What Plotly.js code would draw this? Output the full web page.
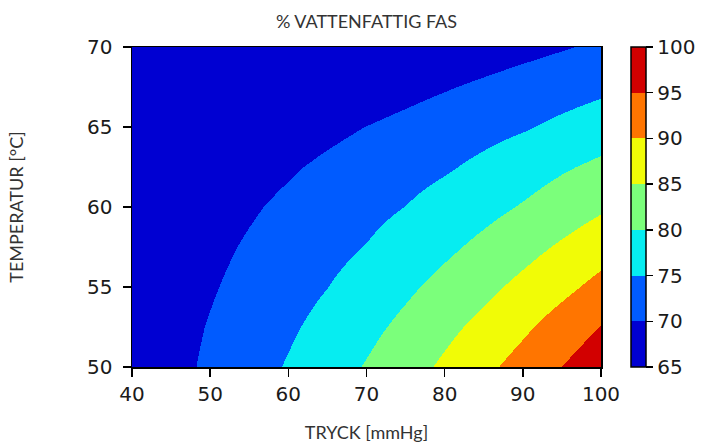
<!DOCTYPE html>
<html>
<head>
<meta charset="utf-8">
<script src="https://cdn.plot.ly/plotly-3.0.1.min.js"></script>
<style>html,body{margin:0;padding:0;background:#fff;}#chart{width:716px;height:444px;}</style>
</head>
<body>
<div id="chart"></div>
<script>
// TRYCK [mmHg]
var pressure = [40, 45, 50, 55, 60, 65, 70, 75, 80, 85, 90, 95, 100];
// TEMPERATUR [°C]
var temperature = [50, 52.5, 55, 57.5, 60, 62.5, 65, 67.5, 70];
// % vattenfattig fas, one row per temperature
var rowT50   = [66.3, 68.6, 70.8, 73.1, 75.4, 77.9, 80.4, 83.1, 85.9, 88.9, 91.9, 95.1, 98.2];
var rowT52_5 = [66.25, 68.3, 70.3, 72.3, 74.3, 76.5, 78.8, 81.2, 83.8, 86.4, 89.2, 92.2, 95.2];
var rowT55   = [66.1, 67.9, 69.6, 71.4, 73.2, 74.95, 77.1, 79.2, 81.5, 83.8, 86.3, 88.8, 91.5];
var rowT57_5 = [65.8, 67.3, 68.9, 70.5, 72.0, 73.6, 75.2, 77.2, 79.1, 81.2, 83.4, 85.7, 88.0];
var rowT60   = [65.3, 66.7, 68.1, 69.5, 70.9, 72.3, 73.7, 75.1, 76.9, 78.6, 80.4, 82.4, 84.4];
var rowT62_5 = [65.5, 66.0, 67.0, 68.3, 69.5, 70.8, 72.0, 73.3, 74.5, 76.1, 77.8, 79.5, 81.0];
var rowT65   = [65.4, 65.8, 66.2, 66.7, 67.8, 68.95, 70.1, 71.2, 72.4, 73.5, 74.6, 76.1, 77.6];
var rowT67_5 = [65.1, 65.3, 65.5, 65.8, 66.2, 66.8, 67.6, 68.65, 69.7, 70.8, 71.9, 72.9, 74.0];
var rowT70   = [65.0, 65.05, 65.1, 65.2, 65.3, 65.4, 65.6, 66.0, 66.7, 67.7, 68.7, 69.7, 70.7];
var levels = [65, 70, 75, 80, 85, 90, 95, 100];
var bandColors = ['rgb(0,0,210)', 'rgb(0,91,255)', 'rgb(6,237,241)', 'rgb(123,255,123)',
                  'rgb(241,252,6)', 'rgb(255,117,0)', 'rgb(210,0,0)'];

var zGrid = [rowT50, rowT52_5, rowT55, rowT57_5, rowT60, rowT62_5, rowT65, rowT67_5, rowT70];

// stepped colorscale: one flat colour per contour band
var lo = levels[0], hi = levels[levels.length - 1];
var colorscale = [];
for (var i = 0; i < bandColors.length; i++) {
  colorscale.push([(levels[i] - lo) / (hi - lo), bandColors[i]]);
  colorscale.push([(levels[i + 1] - lo) / (hi - lo), bandColors[i]]);
}

var tickFont = {family: 'DejaVu Sans', size: 20, color: '#1a1a1a'};
var titleFont = {family: 'Lato', size: 18, color: '#333333'};

var trace = {
  type: 'contour',
  x: pressure,
  y: temperature,
  z: zGrid,
  zmin: lo,
  zmax: hi,
  colorscale: colorscale,
  contours: {start: lo, end: hi, size: levels[1] - levels[0], coloring: 'heatmap', showlines: false},
  line: {width: 0},
  hoverinfo: 'skip',
  colorbar: {
    x: 1.064, xanchor: 'left', xpad: 0,
    y: 0.5, yanchor: 'middle', ypad: 0,
    len: 1, lenmode: 'fraction',
    thickness: 15,
    outlinewidth: 1.5, outlinecolor: '#000',
    tickmode: 'array', tickvals: levels,
    ticks: 'outside', ticklen: 7, tickwidth: 1.5, tickcolor: '#000',
    ticklabelstandoff: 2,
    tickfont: tickFont
  }
};

var layout = {
  width: 716, height: 444,
  margin: {l: 132, r: 115, t: 47, b: 77, pad: 0},
  paper_bgcolor: '#fff', plot_bgcolor: '#fff',
  title: {text: '% VATTENFATTIG FAS', font: titleFont, xref: 'paper', x: 0.5, xanchor: 'center',
          yref: 'container', y: 1 - 22 / 444, yanchor: 'middle'},
  xaxis: {
    range: [40, 100], tickmode: 'linear', tick0: 40, dtick: 10,
    showgrid: false, zeroline: false,
    showline: true, mirror: true, linecolor: '#000', linewidth: 1.5,
    ticks: 'outside', ticklen: 8, tickwidth: 1.5, tickcolor: '#000',
    tickfont: tickFont,
    title: {text: 'TRYCK [mmHg]', font: titleFont, standoff: 22}
  },
  yaxis: {
    range: [50, 70], tickmode: 'linear', tick0: 50, dtick: 5,
    showgrid: false, zeroline: false,
    showline: true, mirror: true, linecolor: '#000', linewidth: 1.5,
    ticks: 'outside', ticklen: 8, tickwidth: 1.5, tickcolor: '#000',
    ticklabelstandoff: 6,
    tickfont: tickFont,
    title: {text: 'TEMPERATUR [°C]', font: titleFont, standoff: 58}
  },
  showlegend: false
};

Plotly.newPlot('chart', [trace], layout, {displayModeBar: false, staticPlot: true});
</script>
</body>
</html>
